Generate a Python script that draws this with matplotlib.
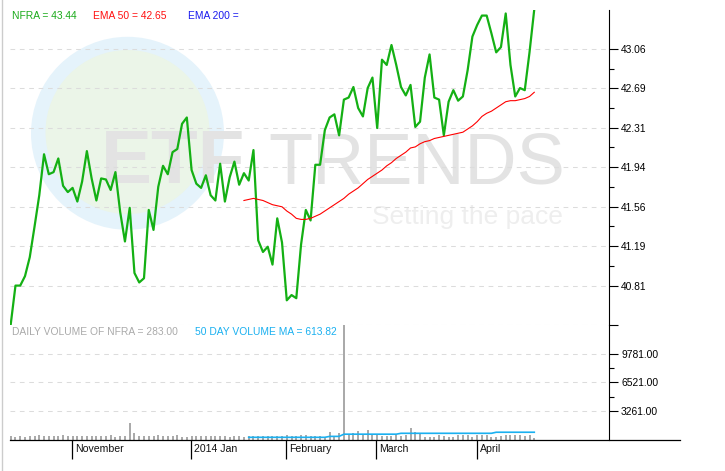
import matplotlib
matplotlib.use("Agg")
import matplotlib.pyplot as plt
from matplotlib.patches import Circle
from matplotlib.lines import Line2D
from matplotlib.transforms import IdentityTransform

# daily closes of NFRA (one value per trading day shown)
price = [
    40.44, 40.81, 40.81, 40.90, 41.08, 41.37, 41.67, 42.06, 41.87, 41.89,
    42.02, 41.76, 41.70, 41.74, 41.61, 41.80, 42.09, 41.83, 41.62, 41.83,
    41.82, 41.72, 41.89, 41.51, 41.23, 41.55, 40.93, 40.84, 40.88, 41.53,
    41.34, 41.75, 41.95, 41.87, 42.08, 42.11, 42.35, 42.41, 41.91, 41.78,
    41.74, 41.86, 41.67, 41.62, 41.97, 41.61, 41.84, 41.99, 41.77, 41.88,
    41.81, 42.10, 41.24, 41.13, 41.18, 41.01, 41.45, 41.22, 40.67, 40.72,
    40.69, 41.20, 41.53, 41.43, 41.96, 41.96, 42.29, 42.41, 42.44, 42.24,
    42.58, 42.60, 42.70, 42.50, 42.42, 42.69, 42.79, 42.31, 42.96, 42.91,
    43.10, 42.91, 42.70, 42.62, 42.72, 42.32, 42.37, 42.79, 43.01, 42.60,
    42.58, 42.24, 42.56, 42.67, 42.57, 42.61, 42.86, 43.18, 43.29, 43.38,
    43.38, 43.21, 43.03, 43.08, 43.40, 42.91, 42.61, 42.69, 42.67, 43.03,
    43.44,
]

# EMA 50, shown from day 49 on
ema_start = 49
ema50 = [
    41.62, 41.63, 41.64, 41.63, 41.62, 41.60, 41.58, 41.57, 41.56, 41.52,
    41.49, 41.45, 41.44, 41.44, 41.45, 41.47, 41.49, 41.52, 41.55, 41.58,
    41.61, 41.64, 41.68, 41.71, 41.74, 41.78, 41.82, 41.85, 41.88, 41.91,
    41.95, 41.98, 42.02, 42.05, 42.08, 42.12, 42.13, 42.16, 42.18, 42.19,
    42.21, 42.22, 42.23, 42.24, 42.25, 42.26, 42.27, 42.30, 42.33, 42.37,
    42.42, 42.45, 42.47, 42.50, 42.53, 42.56, 42.57, 42.57, 42.58, 42.59,
    42.61, 42.65,
]

volume = [
    450, 340, 450, 340, 450, 450, 570, 450, 450, 450,
    450, 570, 450, 450, 450, 450, 450, 450, 450, 450,
    450, 570, 340, 450, 450, 1960, 830, 450, 450, 450,
    450, 570, 450, 450, 450, 570, 340, 340, 450, 450,
    450, 450, 450, 450, 450, 450, 340, 450, 450, 340,
    450, 450, 450, 450, 450, 450, 450, 450, 570, 450,
    450, 570, 570, 450, 450, 450, 340, 870, 340, 760,
    13041, 570, 760, 1020, 570, 1130, 620, 570, 450, 450,
    450, 570, 450, 570, 1400, 940, 680, 340, 340, 340,
    570, 450, 340, 340, 570, 570, 570, 340, 570, 570,
    570, 340, 340, 450, 570, 570, 570, 570, 450, 570,
    283,
]

# 50 day volume MA, shown from day 50 on
ma_start = 50
vol_ma = [
    305, 305, 305, 305, 305, 305, 305, 305, 305, 305,
    305, 305, 305, 305, 305, 305, 305, 410, 410, 410,
    660, 660, 660, 660, 660, 660, 660, 660, 660, 660,
    660, 660, 760, 760, 760, 760, 760, 760, 760, 760,
    760, 760, 760, 760, 760, 760, 760, 760, 760, 760,
    760, 760, 880, 880, 880, 880, 880, 880, 880, 880,
    880,
]

price_ticks = [40.81, 41.19, 41.56, 41.94, 42.31, 42.69, 43.06]
vol_ticks = [3261, 6521, 9781]
month_labels = ["November", "2014 Jan", "February", "March", "April"]
month_pos = [12.8, 37.9, 57.9, 76.8, 98.0]

W, H = 725, 471
FONT = "Liberation Sans"


def fx(px):
    return px / W


def fy(py):
    return 1 - py / H


fig = plt.figure(figsize=(W / 100, H / 100), dpi=100)
fig.patch.set_facecolor("white")

ax = fig.add_axes([fx(10), fy(325), fx(609) - fx(10), fy(10) - fy(325)])
axv = fig.add_axes([fx(10), fy(440), fx(609) - fx(10), fy(325) - fy(440)], sharex=ax)

# watermark
fig.add_artist(Circle((127.5, H - 133.3), 96.5, transform=IdentityTransform(),
                      facecolor="#e5f3fb", edgecolor="none", zorder=-3))
fig.add_artist(Circle((127.5, H - 132.0), 82, transform=IdentityTransform(),
                      facecolor="#ebf5e8", edgecolor="none", zorder=-2))
fig.text(fx(101), fy(183), "ETF", fontsize=55, fontweight="bold", color="#e3e3e3",
         family=FONT, va="baseline", zorder=-1)
fig.text(fx(268), fy(183), "TRENDS", fontsize=52, color="#e3e3e3",
         family=FONT, va="baseline", zorder=-1)
fig.text(fx(372), fy(224), "Setting the pace", fontsize=19, color="#eeeeee",
         family=FONT, va="baseline", zorder=-1)

x = list(range(len(price)))
ax.plot(x, price, color="#14b014", lw=1.6, zorder=3)
ax.plot(range(ema_start, ema_start + len(ema50)), ema50, color="#ff0000", lw=0.8, zorder=3)

axv.bar(x, volume, width=0.42, color="#aaaaaa", zorder=2)
axv.plot(range(ma_start, ma_start + len(vol_ma)), vol_ma, color="#1ab0f0", lw=1.2, zorder=3)

ax.set_xlim(-0.15, 125.7)
ax.set_ylim(40.435, 43.433)
axv.set_ylim(0, 13041)

for a in (ax, axv):
    a.set_facecolor("none")
    for s in ("top", "left", "bottom"):
        a.spines[s].set_visible(False)
    a.spines["right"].set_linewidth(0.8)
    a.yaxis.tick_right()
    a.tick_params(axis="y", which="major", length=6.5, width=0.8, pad=2.2,
                  labelsize=7.4, direction="out")
    a.tick_params(axis="y", which="minor", length=3.4, width=0.8, direction="out")
    for lab in a.get_yticklabels():
        lab.set_family(FONT)

ax.set_yticks([40.435] + price_ticks)
ax.set_yticklabels([""] + [f"{v:.2f}" for v in price_ticks], family=FONT)
ax.set_yticks([(a + b) / 2 for a, b in zip(price_ticks[:-1], price_ticks[1:])], minor=True)
ax.grid(axis="y", which="major", color="#dcdcdc", linestyle=(0, (4.5, 4.5)), lw=0.75)
ax.tick_params(axis="x", bottom=False, labelbottom=False)

axv.set_yticks(vol_ticks)
axv.set_yticklabels([f"{v:.2f}" for v in vol_ticks], family=FONT)
axv.set_yticks([(a + b) / 2 for a, b in zip(vol_ticks[:-1], vol_ticks[1:])], minor=True)
axv.grid(axis="y", which="major", color="#dcdcdc", linestyle=(0, (4.5, 4.5)), lw=0.75)
axv.set_xticks(month_pos)
axv.set_xticklabels([])
axv.tick_params(axis="x", length=13.5, width=0.9, direction="out")
for p, lab in zip(month_pos, month_labels):
    axv.annotate(lab, xy=(p, 0), xycoords=("data", "axes fraction"),
                 xytext=(3, -9), textcoords="offset pixels", ha="left", va="center",
                 fontsize=7.6, family=FONT, color="#111111")

# long bottom rule and left border
fig.add_artist(Line2D([fx(10), fx(680)], [fy(440), fy(440)], color="black", lw=0.9))
fig.add_artist(Line2D([fx(1.7), fx(1.7)], [0, 1], color="#cccccc", lw=1.0))

# legend texts
fig.text(fx(11.7), fy(16.3), f"NFRA = {price[-1]:.2f}", color="#1aaa1a", fontsize=7.4,
         family=FONT, va="center")
fig.text(fx(93.3), fy(16.3), f"EMA 50 = {ema50[-1]:.2f}", color="#ff1010", fontsize=7.4,
         family=FONT, va="center")
fig.text(fx(187.7), fy(16.3), "EMA 200 =", color="#1a1aee", fontsize=7.4,
         family=FONT, va="center")
fig.text(fx(11.7), fy(331.7), f"DAILY VOLUME OF NFRA = {volume[-1]:.2f}", color="#aaaaaa",
         fontsize=7.4, family=FONT, va="center")
fig.text(fx(195), fy(331.7), "50 DAY VOLUME MA = 613.82", color="#1ab0f0",
         fontsize=7.4, family=FONT, va="center")

fig.savefig("out.png", dpi=100)
